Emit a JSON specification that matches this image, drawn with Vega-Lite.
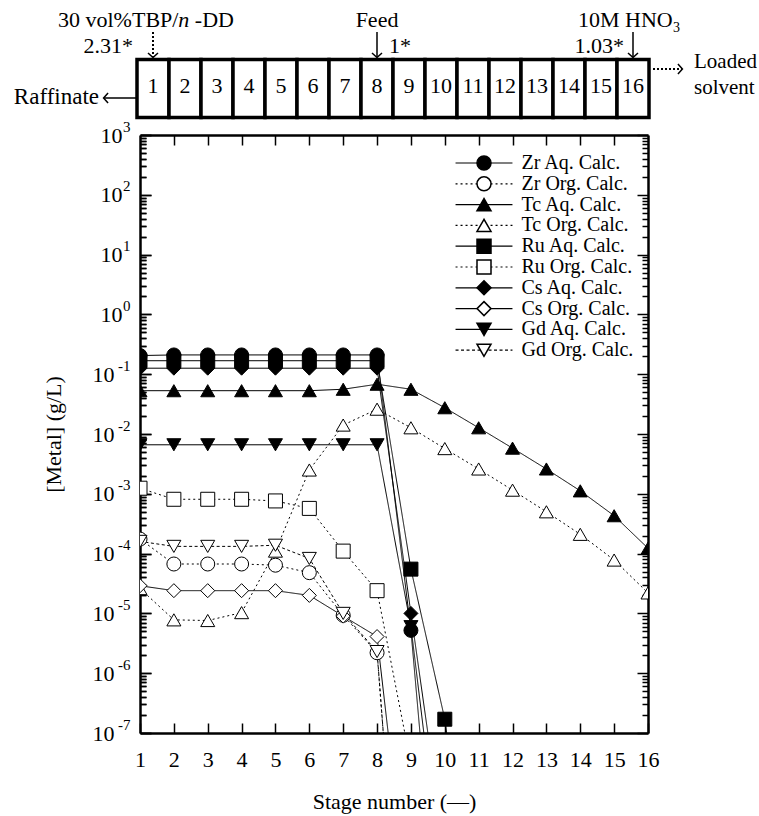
{
  "$schema": "https://vega.github.io/schema/vega-lite/v6.json",
  "padding": {"left": 13, "top": 5, "right": 0, "bottom": 0},
  "background": "white",
  "bounds": "flush",
  "config": {
    "font": "Liberation Serif",
    "view": {"stroke": null},
    "concat": {"spacing": 14},
    "axis": {"domainColor": "black", "domainWidth": 2.5, "tickColor": "black", "tickWidth": 1.5, "labelColor": "black", "titleColor": "black", "labelFont": "Liberation Serif", "titleFont": "Liberation Serif", "titleFontWeight": "normal", "grid": false},
    "legend": {"padding": 0, "labelFont": "Liberation Serif"}
  },
  "datasets": {
    "boxes": [{"stage":1},{"stage":2},{"stage":3},{"stage":4},{"stage":5},{"stage":6},{"stage":7},{"stage":8},{"stage":9},{"stage":10},{"stage":11},{"stage":12},{"stage":13},{"stage":14},{"stage":15},{"stage":16}],
    "metal": [
      {"series":"Zr Aq. Calc.","stage":1,"value":0.205},{"series":"Zr Aq. Calc.","stage":2,"value":0.21},{"series":"Zr Aq. Calc.","stage":3,"value":0.21},{"series":"Zr Aq. Calc.","stage":4,"value":0.21},{"series":"Zr Aq. Calc.","stage":5,"value":0.21},{"series":"Zr Aq. Calc.","stage":6,"value":0.21},{"series":"Zr Aq. Calc.","stage":7,"value":0.21},{"series":"Zr Aq. Calc.","stage":8,"value":0.21},{"series":"Zr Aq. Calc.","stage":9,"value":5.2e-6},{"series":"Zr Aq. Calc.","stage":10,"value":2e-12},
      {"series":"Zr Org. Calc.","stage":1,"value":1.75e-4},{"series":"Zr Org. Calc.","stage":2,"value":6.7e-5},{"series":"Zr Org. Calc.","stage":3,"value":6.7e-5},{"series":"Zr Org. Calc.","stage":4,"value":6.7e-5},{"series":"Zr Org. Calc.","stage":5,"value":6.4e-5},{"series":"Zr Org. Calc.","stage":6,"value":4.8e-5},{"series":"Zr Org. Calc.","stage":7,"value":9.3e-6},{"series":"Zr Org. Calc.","stage":8,"value":2.2e-6},{"series":"Zr Org. Calc.","stage":9,"value":1e-13},
      {"series":"Tc Aq. Calc.","stage":1,"value":0.053},{"series":"Tc Aq. Calc.","stage":2,"value":0.053},{"series":"Tc Aq. Calc.","stage":3,"value":0.053},{"series":"Tc Aq. Calc.","stage":4,"value":0.053},{"series":"Tc Aq. Calc.","stage":5,"value":0.053},{"series":"Tc Aq. Calc.","stage":6,"value":0.053},{"series":"Tc Aq. Calc.","stage":7,"value":0.056},{"series":"Tc Aq. Calc.","stage":8,"value":0.068},{"series":"Tc Aq. Calc.","stage":9,"value":0.056},{"series":"Tc Aq. Calc.","stage":10,"value":0.0275},{"series":"Tc Aq. Calc.","stage":11,"value":0.0127},{"series":"Tc Aq. Calc.","stage":12,"value":0.0058},{"series":"Tc Aq. Calc.","stage":13,"value":0.0026},{"series":"Tc Aq. Calc.","stage":14,"value":0.00112},{"series":"Tc Aq. Calc.","stage":15,"value":4.3e-4},{"series":"Tc Aq. Calc.","stage":16,"value":1.23e-4},
      {"series":"Tc Org. Calc.","stage":1,"value":2.6e-5},{"series":"Tc Org. Calc.","stage":2,"value":7.8e-6},{"series":"Tc Org. Calc.","stage":3,"value":7.6e-6},{"series":"Tc Org. Calc.","stage":4,"value":1.03e-5},{"series":"Tc Org. Calc.","stage":5,"value":1.1e-4},{"series":"Tc Org. Calc.","stage":6,"value":2.5e-3},{"series":"Tc Org. Calc.","stage":7,"value":0.0141},{"series":"Tc Org. Calc.","stage":8,"value":0.026},{"series":"Tc Org. Calc.","stage":9,"value":0.0127},{"series":"Tc Org. Calc.","stage":10,"value":0.0057},{"series":"Tc Org. Calc.","stage":11,"value":0.0026},{"series":"Tc Org. Calc.","stage":12,"value":0.00115},{"series":"Tc Org. Calc.","stage":13,"value":5.0e-4},{"series":"Tc Org. Calc.","stage":14,"value":2.1e-4},{"series":"Tc Org. Calc.","stage":15,"value":7.8e-5},{"series":"Tc Org. Calc.","stage":16,"value":2.2e-5},
      {"series":"Ru Aq. Calc.","stage":1,"value":0.168},{"series":"Ru Aq. Calc.","stage":2,"value":0.168},{"series":"Ru Aq. Calc.","stage":3,"value":0.168},{"series":"Ru Aq. Calc.","stage":4,"value":0.168},{"series":"Ru Aq. Calc.","stage":5,"value":0.168},{"series":"Ru Aq. Calc.","stage":6,"value":0.168},{"series":"Ru Aq. Calc.","stage":7,"value":0.168},{"series":"Ru Aq. Calc.","stage":8,"value":0.168},{"series":"Ru Aq. Calc.","stage":9,"value":5.5e-5},{"series":"Ru Aq. Calc.","stage":10,"value":1.7e-7},{"series":"Ru Aq. Calc.","stage":11,"value":1e-11},
      {"series":"Ru Org. Calc.","stage":1,"value":1.24e-3},{"series":"Ru Org. Calc.","stage":2,"value":8.1e-4},{"series":"Ru Org. Calc.","stage":3,"value":8.1e-4},{"series":"Ru Org. Calc.","stage":4,"value":8.1e-4},{"series":"Ru Org. Calc.","stage":5,"value":7.6e-4},{"series":"Ru Org. Calc.","stage":6,"value":5.7e-4},{"series":"Ru Org. Calc.","stage":7,"value":1.1e-4},{"series":"Ru Org. Calc.","stage":8,"value":2.4e-5},{"series":"Ru Org. Calc.","stage":9,"value":3e-8},
      {"series":"Cs Aq. Calc.","stage":1,"value":0.126},{"series":"Cs Aq. Calc.","stage":2,"value":0.126},{"series":"Cs Aq. Calc.","stage":3,"value":0.126},{"series":"Cs Aq. Calc.","stage":4,"value":0.126},{"series":"Cs Aq. Calc.","stage":5,"value":0.126},{"series":"Cs Aq. Calc.","stage":6,"value":0.126},{"series":"Cs Aq. Calc.","stage":7,"value":0.126},{"series":"Cs Aq. Calc.","stage":8,"value":0.126},{"series":"Cs Aq. Calc.","stage":9,"value":1.0e-5},{"series":"Cs Aq. Calc.","stage":10,"value":1e-9},
      {"series":"Cs Org. Calc.","stage":1,"value":2.9e-5},{"series":"Cs Org. Calc.","stage":2,"value":2.4e-5},{"series":"Cs Org. Calc.","stage":3,"value":2.4e-5},{"series":"Cs Org. Calc.","stage":4,"value":2.4e-5},{"series":"Cs Org. Calc.","stage":5,"value":2.4e-5},{"series":"Cs Org. Calc.","stage":6,"value":2.0e-5},{"series":"Cs Org. Calc.","stage":7,"value":9e-6},{"series":"Cs Org. Calc.","stage":8,"value":4.1e-6},{"series":"Cs Org. Calc.","stage":9,"value":5e-11},
      {"series":"Gd Aq. Calc.","stage":1,"value":0.0066},{"series":"Gd Aq. Calc.","stage":2,"value":0.0066},{"series":"Gd Aq. Calc.","stage":3,"value":0.0066},{"series":"Gd Aq. Calc.","stage":4,"value":0.0066},{"series":"Gd Aq. Calc.","stage":5,"value":0.0066},{"series":"Gd Aq. Calc.","stage":6,"value":0.0066},{"series":"Gd Aq. Calc.","stage":7,"value":0.0066},{"series":"Gd Aq. Calc.","stage":8,"value":0.0066},{"series":"Gd Aq. Calc.","stage":9,"value":6e-6},{"series":"Gd Aq. Calc.","stage":10,"value":1.3e-10},
      {"series":"Gd Org. Calc.","stage":1,"value":1.6e-4},{"series":"Gd Org. Calc.","stage":2,"value":1.32e-4},{"series":"Gd Org. Calc.","stage":3,"value":1.32e-4},{"series":"Gd Org. Calc.","stage":4,"value":1.32e-4},{"series":"Gd Org. Calc.","stage":5,"value":1.38e-4},{"series":"Gd Org. Calc.","stage":6,"value":8.3e-5},{"series":"Gd Org. Calc.","stage":7,"value":1e-5},{"series":"Gd Org. Calc.","stage":8,"value":2.3e-6},{"series":"Gd Org. Calc.","stage":9,"value":1e-13}
    ]
  },
  "vconcat": [
    {
      "width": 508,
      "height": 116,
      "layer": [
        {
          "data": {"name": "boxes"},
          "mark": {"type": "rect", "width": 32, "fill": "white", "stroke": "black", "strokeWidth": 3.5},
          "encoding": {
            "x": {"field": "stage", "type": "quantitative", "scale": {"domain": [0.59375, 16.46875], "nice": false, "zero": false}, "axis": null},
            "y": {"datum": 54.5, "type": "quantitative", "scale": {"domain": [0, 116], "reverse": true, "nice": false, "zero": false}, "axis": null},
            "y2": {"datum": 112.5}
          }
        },
        {
          "data": {"name": "boxes"},
          "mark": {"type": "text", "fontSize": 22, "baseline": "middle", "align": "center", "color": "black"},
          "encoding": {
            "x": {"field": "stage", "type": "quantitative", "scale": {"domain": [0.59375, 16.46875], "nice": false, "zero": false}, "axis": null},
            "y": {"datum": 81, "type": "quantitative", "scale": {"domain": [0, 116], "reverse": true, "nice": false, "zero": false}, "axis": null},
            "text": {"field": "stage", "type": "quantitative"}
          }
        },
        {
          "data": {"values": [{}]},
          "mark": {"type": "text", "text": "30 vol%TBP/", "fontSize": 22, "align": "left", "baseline": "alphabetic", "color": "black"},
          "encoding": {
            "x": {"datum": -1.96875, "type": "quantitative", "scale": {"domain": [0.59375, 16.46875], "nice": false, "zero": false}, "axis": null},
            "y": {"datum": 21.7, "type": "quantitative", "scale": {"domain": [0, 116], "reverse": true, "nice": false, "zero": false}, "axis": null}
          }
        },
        {
          "data": {"values": [{}]},
          "mark": {"type": "text", "text": "n", "fontSize": 22, "fontStyle": "italic", "align": "left", "baseline": "alphabetic", "color": "black"},
          "encoding": {
            "x": {"datum": 1.7894, "type": "quantitative", "scale": {"domain": [0.59375, 16.46875], "nice": false, "zero": false}, "axis": null},
            "y": {"datum": 21.7, "type": "quantitative", "scale": {"domain": [0, 116], "reverse": true, "nice": false, "zero": false}, "axis": null}
          }
        },
        {
          "data": {"values": [{}]},
          "mark": {"type": "text", "text": "-DD", "fontSize": 22, "align": "left", "baseline": "alphabetic", "color": "black"},
          "encoding": {
            "x": {"datum": 2.3063, "type": "quantitative", "scale": {"domain": [0.59375, 16.46875], "nice": false, "zero": false}, "axis": null},
            "y": {"datum": 21.7, "type": "quantitative", "scale": {"domain": [0, 116], "reverse": true, "nice": false, "zero": false}, "axis": null}
          }
        },
        {
          "data": {"values": [{}]},
          "mark": {"type": "text", "text": "2.31*", "fontSize": 22, "align": "right", "baseline": "alphabetic", "color": "black"},
          "encoding": {
            "x": {"datum": 0.375, "type": "quantitative", "scale": {"domain": [0.59375, 16.46875], "nice": false, "zero": false}, "axis": null},
            "y": {"datum": 48, "type": "quantitative", "scale": {"domain": [0, 116], "reverse": true, "nice": false, "zero": false}, "axis": null}
          }
        },
        {
          "data": {"values": [{}]},
          "mark": {"type": "text", "text": "Feed", "fontSize": 22, "align": "center", "baseline": "alphabetic", "color": "black"},
          "encoding": {
            "x": {"datum": 8, "type": "quantitative", "scale": {"domain": [0.59375, 16.46875], "nice": false, "zero": false}, "axis": null},
            "y": {"datum": 21.7, "type": "quantitative", "scale": {"domain": [0, 116], "reverse": true, "nice": false, "zero": false}, "axis": null}
          }
        },
        {
          "data": {"values": [{}]},
          "mark": {"type": "text", "text": "1*", "fontSize": 22, "align": "left", "baseline": "alphabetic", "color": "black"},
          "encoding": {
            "x": {"datum": 8.375, "type": "quantitative", "scale": {"domain": [0.59375, 16.46875], "nice": false, "zero": false}, "axis": null},
            "y": {"datum": 48, "type": "quantitative", "scale": {"domain": [0, 116], "reverse": true, "nice": false, "zero": false}, "axis": null}
          }
        },
        {
          "data": {"values": [{}]},
          "mark": {"type": "text", "text": "10M HNO", "fontSize": 22, "align": "left", "baseline": "alphabetic", "color": "black"},
          "encoding": {
            "x": {"datum": 14.28, "type": "quantitative", "scale": {"domain": [0.59375, 16.46875], "nice": false, "zero": false}, "axis": null},
            "y": {"datum": 21.7, "type": "quantitative", "scale": {"domain": [0, 116], "reverse": true, "nice": false, "zero": false}, "axis": null}
          }
        },
        {
          "data": {"values": [{}]},
          "mark": {"type": "text", "text": "3", "fontSize": 14, "align": "left", "baseline": "alphabetic", "color": "black"},
          "encoding": {
            "x": {"datum": 17.25, "type": "quantitative", "scale": {"domain": [0.59375, 16.46875], "nice": false, "zero": false}, "axis": null},
            "y": {"datum": 26.5, "type": "quantitative", "scale": {"domain": [0, 116], "reverse": true, "nice": false, "zero": false}, "axis": null}
          }
        },
        {
          "data": {"values": [{}]},
          "mark": {"type": "text", "text": "1.03*", "fontSize": 22, "align": "right", "baseline": "alphabetic", "color": "black"},
          "encoding": {
            "x": {"datum": 15.71875, "type": "quantitative", "scale": {"domain": [0.59375, 16.46875], "nice": false, "zero": false}, "axis": null},
            "y": {"datum": 48, "type": "quantitative", "scale": {"domain": [0, 116], "reverse": true, "nice": false, "zero": false}, "axis": null}
          }
        },
        {
          "data": {"values": [{}]},
          "mark": {"type": "text", "text": "Raffinate", "fontSize": 23, "align": "right", "baseline": "middle", "color": "black"},
          "encoding": {
            "x": {"datum": -0.6875, "type": "quantitative", "scale": {"domain": [0.59375, 16.46875], "nice": false, "zero": false}, "axis": null},
            "y": {"datum": 92, "type": "quantitative", "scale": {"domain": [0, 116], "reverse": true, "nice": false, "zero": false}, "axis": null}
          }
        },
        {
          "data": {"values": [{}]},
          "mark": {"type": "text", "text": "Loaded", "fontSize": 21, "align": "left", "baseline": "middle", "color": "black"},
          "encoding": {
            "x": {"datum": 17.90625, "type": "quantitative", "scale": {"domain": [0.59375, 16.46875], "nice": false, "zero": false}, "axis": null},
            "y": {"datum": 57, "type": "quantitative", "scale": {"domain": [0, 116], "reverse": true, "nice": false, "zero": false}, "axis": null}
          }
        },
        {
          "data": {"values": [{}]},
          "mark": {"type": "text", "text": "solvent", "fontSize": 21, "align": "left", "baseline": "middle", "color": "black"},
          "encoding": {
            "x": {"datum": 17.90625, "type": "quantitative", "scale": {"domain": [0.59375, 16.46875], "nice": false, "zero": false}, "axis": null},
            "y": {"datum": 83, "type": "quantitative", "scale": {"domain": [0, 116], "reverse": true, "nice": false, "zero": false}, "axis": null}
          }
        },
        {
          "data": {"values": [{}]},
          "mark": {"type": "rule", "strokeDash": [2, 2], "strokeWidth": 2, "color": "black"},
          "encoding": {
            "x": {"datum": 1, "type": "quantitative", "scale": {"domain": [0.59375, 16.46875], "nice": false, "zero": false}, "axis": null},
            "y": {"datum": 27, "type": "quantitative", "scale": {"domain": [0, 116], "reverse": true, "nice": false, "zero": false}, "axis": null},
            "y2": {"datum": 52}
          }
        },
        {
          "data": {"values": [{}]},
          "mark": {"type": "rule", "strokeWidth": 1.5, "color": "black"},
          "encoding": {
            "x": {"datum": 8, "type": "quantitative", "scale": {"domain": [0.59375, 16.46875], "nice": false, "zero": false}, "axis": null},
            "y": {"datum": 27, "type": "quantitative", "scale": {"domain": [0, 116], "reverse": true, "nice": false, "zero": false}, "axis": null},
            "y2": {"datum": 52}
          }
        },
        {
          "data": {"values": [{}]},
          "mark": {"type": "rule", "strokeWidth": 1.5, "color": "black"},
          "encoding": {
            "x": {"datum": 16, "type": "quantitative", "scale": {"domain": [0.59375, 16.46875], "nice": false, "zero": false}, "axis": null},
            "y": {"datum": 27, "type": "quantitative", "scale": {"domain": [0, 116], "reverse": true, "nice": false, "zero": false}, "axis": null},
            "y2": {"datum": 52}
          }
        },
        {
          "data": {"values": [{}]},
          "mark": {"type": "rule", "strokeWidth": 1.5, "color": "black"},
          "encoding": {
            "x": {"datum": -0.53125, "type": "quantitative", "scale": {"domain": [0.59375, 16.46875], "nice": false, "zero": false}, "axis": null},
            "x2": {"datum": 0.46875},
            "y": {"datum": 93, "type": "quantitative", "scale": {"domain": [0, 116], "reverse": true, "nice": false, "zero": false}, "axis": null}
          }
        },
        {
          "data": {"values": [{}]},
          "mark": {"type": "rule", "strokeWidth": 1.8, "strokeDash": [2, 2], "color": "black"},
          "encoding": {
            "x": {"datum": 16.625, "type": "quantitative", "scale": {"domain": [0.59375, 16.46875], "nice": false, "zero": false}, "axis": null},
            "x2": {"datum": 17.53},
            "y": {"datum": 64, "type": "quantitative", "scale": {"domain": [0, 116], "reverse": true, "nice": false, "zero": false}, "axis": null}
          }
        },
        {
          "data": {"values": [{}]},
          "mark": {"type": "point", "shape": "M-1,-0.9L0,0L1,-0.9", "size": 100, "filled": false, "stroke": "black", "strokeWidth": 1.5, "opacity": 1},
          "encoding": {
            "x": {"datum": 1, "type": "quantitative", "scale": {"domain": [0.59375, 16.46875], "nice": false, "zero": false}, "axis": null},
            "y": {"datum": 52.5, "type": "quantitative", "scale": {"domain": [0, 116], "reverse": true, "nice": false, "zero": false}, "axis": null}
          }
        },
        {
          "data": {"values": [{}]},
          "mark": {"type": "point", "shape": "M-1,-0.9L0,0L1,-0.9", "size": 100, "filled": false, "stroke": "black", "strokeWidth": 1.5, "opacity": 1},
          "encoding": {
            "x": {"datum": 8, "type": "quantitative", "scale": {"domain": [0.59375, 16.46875], "nice": false, "zero": false}, "axis": null},
            "y": {"datum": 52.5, "type": "quantitative", "scale": {"domain": [0, 116], "reverse": true, "nice": false, "zero": false}, "axis": null}
          }
        },
        {
          "data": {"values": [{}]},
          "mark": {"type": "point", "shape": "M-1,-0.9L0,0L1,-0.9", "size": 100, "filled": false, "stroke": "black", "strokeWidth": 1.5, "opacity": 1},
          "encoding": {
            "x": {"datum": 16, "type": "quantitative", "scale": {"domain": [0.59375, 16.46875], "nice": false, "zero": false}, "axis": null},
            "y": {"datum": 52.5, "type": "quantitative", "scale": {"domain": [0, 116], "reverse": true, "nice": false, "zero": false}, "axis": null}
          }
        },
        {
          "data": {"values": [{}]},
          "mark": {"type": "point", "shape": "M0.9,-1L0,0L0.9,1", "size": 100, "filled": false, "stroke": "black", "strokeWidth": 1.5, "opacity": 1},
          "encoding": {
            "x": {"datum": -0.545, "type": "quantitative", "scale": {"domain": [0.59375, 16.46875], "nice": false, "zero": false}, "axis": null},
            "y": {"datum": 93, "type": "quantitative", "scale": {"domain": [0, 116], "reverse": true, "nice": false, "zero": false}, "axis": null}
          }
        },
        {
          "data": {"values": [{}]},
          "mark": {"type": "point", "shape": "M-0.9,-1L0,0L-0.9,1", "size": 100, "filled": false, "stroke": "black", "strokeWidth": 1.5, "opacity": 1},
          "encoding": {
            "x": {"datum": 17.545, "type": "quantitative", "scale": {"domain": [0.59375, 16.46875], "nice": false, "zero": false}, "axis": null},
            "y": {"datum": 64, "type": "quantitative", "scale": {"domain": [0, 116], "reverse": true, "nice": false, "zero": false}, "axis": null}
          }
        }
      ]
    },
    {
      "width": 508,
      "height": 598,
      "data": {"name": "metal"},
      "layer": [
        {
          "mark": {"type": "line", "clip": true, "color": "black", "strokeWidth": 1},
          "encoding": {
            "x": {"field": "stage", "type": "quantitative", "scale": {"domain": [1, 16], "nice": false, "zero": false},
              "axis": {"orient": "bottom", "values": [1,2,3,4,5,6,7,8,9,10,11,12,13,14,15,16], "format": "d", "tickSize": -10, "labelFontSize": 22, "labelPadding": 26, "labelFlush": false, "labelOverlap": false, "title": "Stage number (—)", "titleFontSize": 22, "titlePadding": 21}},
            "y": {"field": "value", "type": "quantitative", "scale": {"type": "log", "domain": [1e-7, 1000], "nice": false},
              "axis": {"orient": "left", "tickCount": 100, "labelOverlap": false, "labelFlush": false, "labelBound": false,
                "labelExpr": "abs(log(datum.value)/LN10 - round(log(datum.value)/LN10)) < 0.001 ? '10' : ''",
                "tickSize": {"condition": {"test": "abs(log(datum.value)/LN10 - round(log(datum.value)/LN10)) < 0.001", "value": -11}, "value": -6},
                "labelFontSize": 22, "labelAlign": "right", "labelBaseline": "middle",
                "labelPadding": {"condition": {"test": "datum.value < 0.5", "value": 37}, "value": 29},
                "title": "[Metal] (g/L)", "titleFontSize": 22, "titlePadding": 27}},
            "strokeDash": {"field": "series", "type": "nominal",
              "sort": ["Zr Aq. Calc.","Zr Org. Calc.","Tc Aq. Calc.","Tc Org. Calc.","Ru Aq. Calc.","Ru Org. Calc.","Cs Aq. Calc.","Cs Org. Calc.","Gd Aq. Calc.","Gd Org. Calc."],
              "scale": {"range": [[1,0],[2,3],[1,0],[2,3],[1,0],[2,3],[1,0],[1,0],[1,0],[3,2.5]]},
              "legend": {"orient": "none", "legendX": 334, "legendY": 148, "direction": "vertical", "title": null, "symbolType": "M-6,0L6,0", "symbolSize": 90, "symbolStrokeColor": "black", "symbolFillColor": "transparent", "symbolStrokeWidth": 1.2, "labelFontSize": 20, "labelColor": "black", "labelOffset": 27.5, "rowPadding": 0.8, "labelLimit": 300}}
          }
        },
        {
          "mark": {"type": "point", "clip": true, "filled": true, "stroke": "black", "strokeWidth": 1, "opacity": 1},
          "encoding": {
            "x": {"field": "stage", "type": "quantitative", "scale": {"domain": [1, 16], "nice": false, "zero": false},
              "axis": {"orient": "top", "values": [2,3,4,5,6,7,8,9,10,11,12,13,14,15], "tickSize": -10, "labels": false, "title": null}},
            "y": {"field": "value", "type": "quantitative", "scale": {"type": "log", "domain": [1e-7, 1000], "nice": false},
              "axis": {"orient": "right", "tickCount": 100, "labels": false, "title": null,
                "tickSize": {"condition": {"test": "abs(log(datum.value)/LN10 - round(log(datum.value)/LN10)) < 0.001", "value": -11}, "value": -6}}},
            "shape": {"field": "series", "type": "nominal",
              "scale": {"domain": ["Zr Aq. Calc.","Zr Org. Calc.","Tc Aq. Calc.","Tc Org. Calc.","Ru Aq. Calc.","Ru Org. Calc.","Cs Aq. Calc.","Cs Org. Calc.","Gd Aq. Calc.","Gd Org. Calc."],
                "range": ["circle","circle","triangle-up","triangle-up","square","square","diamond","diamond","triangle-down","triangle-down"]},
              "legend": {"orient": "none", "legendX": 334, "legendY": 148, "direction": "vertical", "title": null, "symbolOpacity": 1, "labelFontSize": 20, "labelOpacity": 0, "labelExpr": "' '", "labelOffset": 7, "rowPadding": 0.8,
                "encode": {"symbols": {"update": {"stroke": {"value": "black"}, "strokeWidth": {"value": 1}, "opacity": {"value": 1}}}}}},
            "fill": {"field": "series", "type": "nominal",
              "scale": {"domain": ["Zr Aq. Calc.","Zr Org. Calc.","Tc Aq. Calc.","Tc Org. Calc.","Ru Aq. Calc.","Ru Org. Calc.","Cs Aq. Calc.","Cs Org. Calc.","Gd Aq. Calc.","Gd Org. Calc."],
                "range": ["black","white","black","white","black","white","black","white","black","white"]},
              "legend": {"orient": "none", "legendX": 334, "legendY": 148, "direction": "vertical", "title": null, "symbolOpacity": 1, "labelFontSize": 20, "labelOpacity": 0, "labelExpr": "' '", "labelOffset": 7, "rowPadding": 0.8,
                "encode": {"symbols": {"update": {"stroke": {"value": "black"}, "strokeWidth": {"value": 1}, "opacity": {"value": 1}}}}}},
            "size": {"field": "series", "type": "nominal",
              "scale": {"domain": ["Zr Aq. Calc.","Zr Org. Calc.","Tc Aq. Calc.","Tc Org. Calc.","Ru Aq. Calc.","Ru Org. Calc.","Cs Aq. Calc.","Cs Org. Calc.","Gd Aq. Calc.","Gd Org. Calc."],
                "range": [196,196,225,225,169,169,180,180,225,225]},
              "legend": {"orient": "none", "legendX": 334, "legendY": 148, "direction": "vertical", "title": null, "symbolOpacity": 1, "labelFontSize": 20, "labelOpacity": 0, "labelExpr": "' '", "labelOffset": 7, "rowPadding": 0.8,
                "encode": {"symbols": {"update": {"stroke": {"value": "black"}, "strokeWidth": {"value": 1}, "opacity": {"value": 1}}}}}}
          }
        },
        {
          "mark": {"type": "point", "opacity": 0},
          "encoding": {
            "x": {"field": "stage", "type": "quantitative", "scale": {"domain": [1, 16], "nice": false, "zero": false}, "axis": null},
            "y": {"field": "value", "type": "quantitative", "scale": {"type": "log", "domain": [1e-7, 1000], "nice": false},
              "axis": {"orient": "left", "tickCount": 100, "labelOverlap": false, "labelFlush": false, "labelBound": false, "title": null, "domain": false,
                "labelExpr": "abs(log(datum.value)/LN10 - round(log(datum.value)/LN10)) < 0.001 ? ((round(log(datum.value)/LN10) < 0 ? '-' : '') + abs(round(log(datum.value)/LN10))) : ''",
                "tickSize": {"condition": {"test": "abs(log(datum.value)/LN10 - round(log(datum.value)/LN10)) < 0.001", "value": -11}, "value": -6},
                "labelFontSize": 15, "labelAlign": "right", "labelBaseline": "middle", "labelOffset": -9, "labelPadding": 21}}
          }
        }
      ]
    }
  ]
}
